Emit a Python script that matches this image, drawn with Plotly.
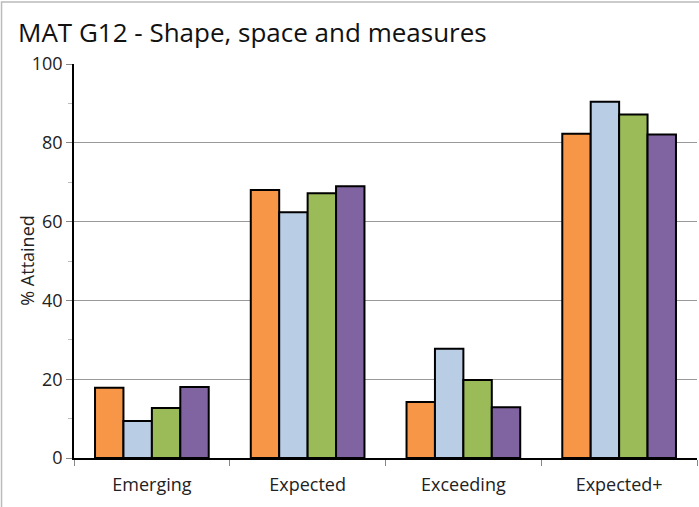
import plotly.graph_objects as go

categories = ["Emerging", "Expected", "Exceeding", "Expected+"]
series_orange = [17.8, 68.0, 14.2, 82.3]
series_blue = [9.4, 62.4, 27.7, 90.4]
series_green = [12.7, 67.2, 19.8, 87.2]
series_purple = [18.0, 69.0, 12.9, 82.1]
series_names = ["Series 1", "Series 2", "Series 3", "Series 4"]
colors = ["#F79646", "#B9CDE5", "#9BBB59", "#8064A2"]

fig = go.Figure()
for name, vals, col in zip(series_names,
                           [series_orange, series_blue, series_green, series_purple],
                           colors):
    fig.add_trace(go.Bar(x=categories, y=vals, name=name,
                         marker=dict(color=col, line=dict(color="black", width=2))))

font_family = "Open Sans"
fig.update_layout(
    width=699, height=507,
    margin=dict(l=74, r=2, t=64, b=49),
    paper_bgcolor="white", plot_bgcolor="white",
    barmode="group", bargap=0.27, bargroupgap=0,
    showlegend=False,
    font=dict(family=font_family, color="#222222"),
    title=dict(text="MAT G12 - Shape, space and measures",
               x=18/699, xanchor="left", y=1 - 33/507, yanchor="middle",
               font=dict(size=26, family=font_family, color="#111111")),
    xaxis=dict(showline=True, linecolor="black", linewidth=1.5,
               ticks="outside", tickson="boundaries", ticklen=6, tickcolor="#888888",
               ticklabelstandoff=10,
               tickfont=dict(size=18), showgrid=False),
    yaxis=dict(range=[0, 100], dtick=20, showline=True, linecolor="black", linewidth=1.5,
               ticks="outside", ticklen=6, tickcolor="#888888",
               minor=dict(dtick=10, ticks="outside", ticklen=4, tickcolor="#bbbbbb", showgrid=False),
               showgrid=True, gridcolor="#999999", gridwidth=1,
               tickfont=dict(size=18)),
)
fig.add_annotation(text="% Attained", textangle=-90, xref="paper", yref="paper",
                   x=-47/619, y=0.5, xanchor="center", yanchor="middle",
                   showarrow=False, font=dict(size=18, family=font_family, color="#222222"))
fig.add_shape(type="rect", xref="paper", yref="paper",
              x0=-72/619, x1=1 + 10/619, y0=-60/394, y1=1 + 62/394,
              line=dict(color="#bbbbbb", width=1.5), fillcolor="rgba(0,0,0,0)")
fig.write_html("out.html", config={"displayModeBar": False},
               post_script="document.body.style.margin='0';document.body.style.overflow='hidden';")
